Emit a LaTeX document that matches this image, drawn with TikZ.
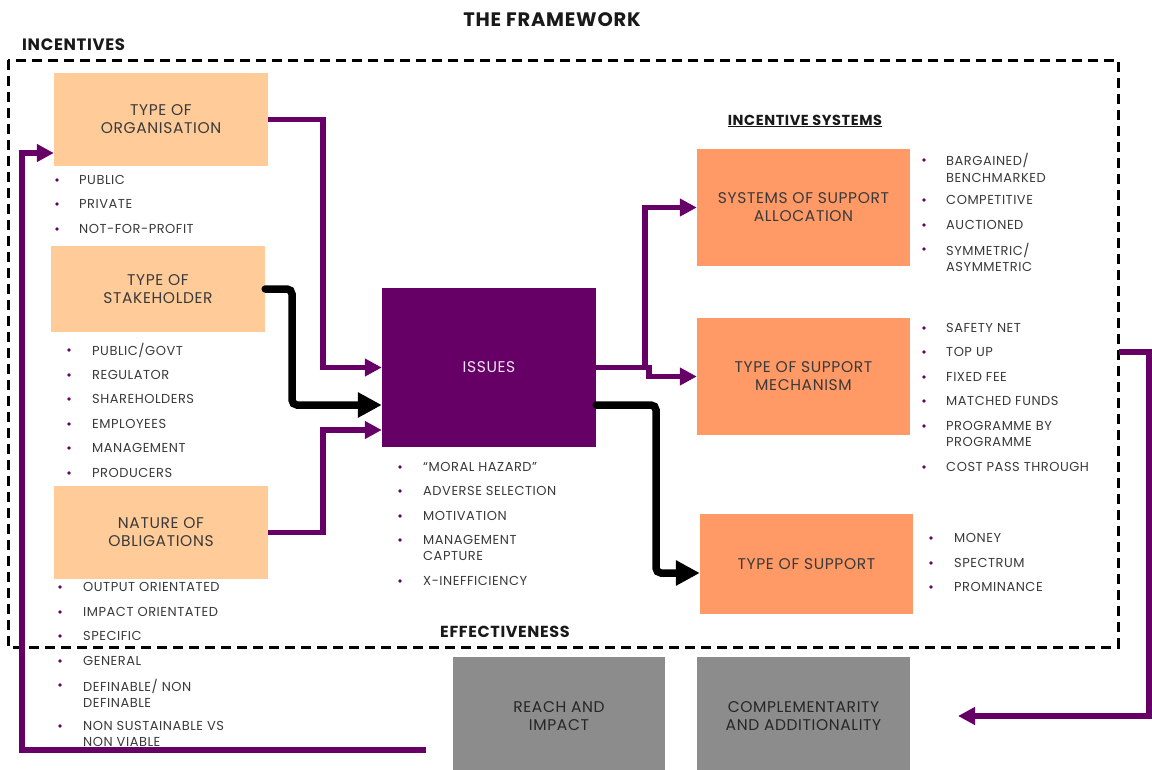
\documentclass[tikz,border=0pt]{standalone}
\usepackage{fontspec}
\setmainfont{Poppins}[LetterSpace=4]
\usetikzlibrary{arrows.meta,calc}
\definecolor{purp}{HTML}{660066}
\definecolor{peach}{HTML}{FFCC99}
\definecolor{orng}{HTML}{FF9966}
\definecolor{gbox}{HTML}{8C8C8C}
\definecolor{txt}{HTML}{3A3A3A}
\newcommand{\bitem}[6]{% name, bullet x, text x, bullet y, text y, text
  \fill[purp] (#2,#4) circle (1.9pt);
  \node[btext] (#1) at (#3,#5) {#6};}
\begin{document}
\begin{tikzpicture}[x=1pt,y=-1pt,
  box/.style={inner sep=0pt, align=center, text=txt, minimum width=214pt,
    font=\fontsize{15.5}{18}\selectfont},
  lbox/.style={box, fill=peach},
  obox/.style={box, fill=orng},
  gray box/.style={box, fill=gbox, text=black!85},
  btext/.style={anchor=west, inner sep=0pt, align=left, text=txt,
    font=\fontsize{13}{16.5}\selectfont},
  heading/.style={inner sep=0pt, text=black!90, font=\bfseries\fontsize{16.5}{18}\selectfont},
  parr/.style={draw=purp, line width=5.5pt, line join=miter,
    -{Triangle[length=17pt,width=17pt]}},
  barr/.style={draw=black, line width=7.5pt, rounded corners=5pt, line cap=round,
    -{Triangle[length=24pt,width=24pt]}},
  frame/.style={draw=black, line width=3pt, dash pattern=on 10pt off 6pt}
]
\useasboundingbox (0,0) rectangle (1152,769);

% titles
\node[heading, font=\bfseries\fontsize{19.5}{21}\selectfont] (title) at (552,20) {THE FRAMEWORK};
\node[heading, anchor=west] (incent) at (22,45) {INCENTIVES};
\node[heading, font=\bfseries\fontsize{14.5}{16}\selectfont] (insys) at (805,121) {\underline{INCENTIVE SYSTEMS}};
\node[heading, font=\bfseries\fontsize{16}{18}\selectfont] (effect) at (505,632) {EFFECTIVENESS};

% dashed frame
\draw[frame] (8,60) rectangle (1118,647);

% boxes
\node[lbox, minimum height=93pt] (org) at (161,119.5) {TYPE OF\\ORGANISATION};
\node[lbox, minimum height=86pt] (stake) at (158,289) {TYPE OF\\STAKEHOLDER};
\node[lbox, minimum height=93pt] (obl) at (161,532.5) {NATURE OF\\OBLIGATIONS};
\node[box, fill=purp, text=white!90!purp, minimum height=159pt] (issues) at (489,367.5) {ISSUES};
\node[obox, minimum width=213pt, minimum height=117pt] (alloc) at (803.5,207.5) {SYSTEMS OF SUPPORT\\ALLOCATION};
\node[obox, minimum width=213pt, minimum height=117pt] (mech) at (803.5,376.5) {TYPE OF SUPPORT\\MECHANISM};
\node[obox, minimum width=213pt, minimum height=100pt] (support) at (806.5,564) {TYPE OF SUPPORT};
\node[gray box, minimum width=212pt, minimum height=118pt] (reach) at (559,716) {REACH AND\\IMPACT};
\node[gray box, minimum width=213pt, minimum height=118pt] (compl) at (803.5,716) {COMPLEMENTARITY\\AND ADDITIONALITY};

% bullets
\bitem{o1}{57}{79}{180}{180}{PUBLIC}
\bitem{o2}{57}{79}{204}{204}{PRIVATE}
\bitem{o3}{57}{79}{229}{229}{NOT-FOR-PROFIT}

\bitem{s1}{69}{92}{350}{350}{PUBLIC/GOVT}
\bitem{s2}{69}{92}{375}{375}{REGULATOR}
\bitem{s3}{69}{92}{399}{399}{SHAREHOLDERS}
\bitem{s4}{69}{92}{424}{424}{EMPLOYEES}
\bitem{s5}{69}{92}{448}{448}{MANAGEMENT}
\bitem{s6}{69}{92}{473}{473}{PRODUCERS}

\bitem{n1}{60}{83}{587}{587}{OUTPUT ORIENTATED}
\bitem{n2}{60}{83}{612}{612}{IMPACT ORIENTATED}
\bitem{n3}{60}{83}{636}{636}{SPECIFIC}
\bitem{n4}{60}{83}{661}{661}{GENERAL}
\bitem{n5}{60}{83}{685}{693.5}{DEFINABLE/ NON\\DEFINABLE}
\bitem{n6}{60}{83}{726}{734}{NON SUSTAINABLE VS\\NON VIABLE}

\bitem{i1}{400}{423}{467}{467}{“MORAL HAZARD”}
\bitem{i2}{400}{423}{491}{491}{ADVERSE SELECTION}
\bitem{i3}{400}{423}{516}{516}{MOTIVATION}
\bitem{i4}{400}{423}{540}{548}{MANAGEMENT\\CAPTURE}
\bitem{i5}{400}{423}{581}{581}{X-INEFFICIENCY}

\bitem{a1}{924}{946}{160}{168}{BARGAINED/\\BENCHMARKED}
\bitem{a2}{924}{946}{200}{200}{COMPETITIVE}
\bitem{a3}{924}{946}{225}{225}{AUCTIONED}
\bitem{a4}{924}{946}{249}{257.5}{SYMMETRIC/\\ASYMMETRIC}

\bitem{m1}{924}{946}{328}{328}{SAFETY NET}
\bitem{m2}{924}{946}{352}{352}{TOP UP}
\bitem{m3}{924}{946}{377}{377}{FIXED FEE}
\bitem{m4}{924}{946}{401}{401}{MATCHED FUNDS}
\bitem{m5}{924}{946}{426}{434}{PROGRAMME BY\\PROGRAMME}
\bitem{m6}{924}{946}{467}{467}{COST PASS THROUGH}

\bitem{t1}{931}{954}{538}{538}{MONEY}
\bitem{t2}{931}{954}{563}{563}{SPECTRUM}
\bitem{t3}{931}{954}{587}{587}{PROMINANCE}

% connectors
\draw[parr] (org.east) -| (323,367.5) -- (issues.west);
\draw[barr] (stake.east) -| (292,405) -- ([yshift=-37.5pt]issues.west);
\draw[parr] (obl.east) -| (323,430) -- ([yshift=-62.5pt]issues.west);

\coordinate (split) at (645,367.5);
\draw[parr, -] (issues.east) -- (split);
\draw[parr] (split) |- (alloc.west);
\draw[parr] (split) -- (649,367.5) -- (649,376.5) -- (mech.west);
\draw[barr] ([yshift=-37.5pt]issues.east) -| (656,573) -- ([yshift=-9pt]support.west);

\coordinate (rstart) at (1119,352);
\coordinate (rend) at (958,716);
\draw[parr] (rstart) -- (1149,352) -- (1149,716) -- (rend);

\coordinate (bstart) at (426,750);
\draw[parr] (bstart) -- (22,750) -- (22,153) -- ([yshift=-33.5pt]org.west);
\end{tikzpicture}
\end{document}
